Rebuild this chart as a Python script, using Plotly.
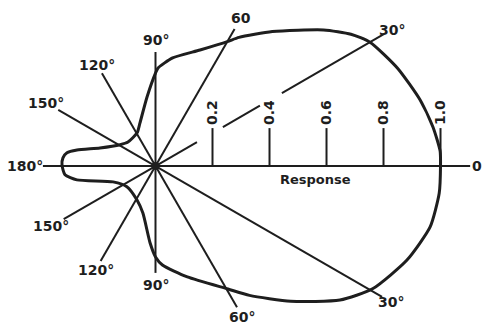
import numpy as np
import plotly.graph_objects as go

# polar response curve (degrees, response)
angle = [0, 3, 8, 14, 22, 30, 34, 39, 49, 57, 60, 69, 81, 88.5, 90, 97, 110, 119, 139, 149,
         162, 168.5, 171.5, 175, 179.5, 185.5, 190, 200.5, 216, 241.5, 255, 266, 270, 274,
         286, 300.5, 306, 315, 324, 330.5, 339.5, 347.5, 354.5, 360]
response = [1.0, 1.0, 0.983, 0.957, 0.916, 0.869, 0.827, 0.759, 0.625, 0.538, 0.504, 0.436,
            0.384, 0.344, 0.326, 0.244, 0.16, 0.133, 0.128, 0.145, 0.205, 0.281, 0.314,
            0.326, 0.328, 0.319, 0.28, 0.159, 0.124, 0.136, 0.171, 0.271, 0.319, 0.348,
            0.405, 0.501, 0.561, 0.671, 0.8, 0.875, 0.942, 0.987, 1.0, 1.0]

# radial guide lines
spoke_angle = [30, 60, 90, 120, 150, -150, -120, -90, -60, -30]
spoke_len = [0.925, 0.555, 0.40, 0.376, 0.394, 0.372, 0.385, 0.375, 0.572, 0.918]
spoke_label = ["30°", "60", "90°", "120°", "150°", "150°", "120°", "90°", "60°", "30°"]
label_r = [0.957, 0.60, 0.442, 0.41, 0.444, 0.422, 0.42, 0.418, 0.61, 0.954]
gaps_30 = [(0.168, 0.273), (0.423, 0.512)]

ticks = [0.2, 0.4, 0.6, 0.8, 1.0]
tick_text = ["0.2", "0.4", "0.6", "0.8", "1.0"]

axis_left, axis_right = -0.395, 1.104

ink = "#1e1e1e"
font = "DejaVu Sans"

fig = go.Figure()

th = np.radians(angle)
r = np.array(response)
fig.add_trace(go.Scatter(x=r * np.cos(th), y=r * np.sin(th), mode="lines",
                         line=dict(color=ink, width=3, shape="spline", smoothing=0.6),
                         hoverinfo="skip"))

# horizontal axis
fig.add_trace(go.Scatter(x=[axis_left, axis_right], y=[0, 0], mode="lines",
                         line=dict(color=ink, width=2), hoverinfo="skip"))

# spokes
xs, ys = [], []
for a, l in zip(spoke_angle, spoke_len):
    c, s = np.cos(np.radians(a)), np.sin(np.radians(a))
    if a == 30:
        cuts = [0] + [v for g in gaps_30 for v in g] + [l]
        for i in range(0, len(cuts), 2):
            xs += [cuts[i] * c, cuts[i + 1] * c, None]
            ys += [cuts[i] * s, cuts[i + 1] * s, None]
    else:
        xs += [0, l * c, None]
        ys += [0, l * s, None]
fig.add_trace(go.Scatter(x=xs, y=ys, mode="lines", line=dict(color=ink, width=2),
                         hoverinfo="skip"))

# tick marks
tx, ty = [], []
for t in ticks:
    tx += [t, t, None]
    ty += [0, 0.133, None]
fig.add_trace(go.Scatter(x=tx, y=ty, mode="lines", line=dict(color=ink, width=2),
                         hoverinfo="skip"))

# centre dot
fig.add_trace(go.Scatter(x=[0], y=[0], mode="markers",
                         marker=dict(color=ink, size=8), hoverinfo="skip"))

lab_font = dict(family=font, size=14, color=ink)
for a, lr, txt in zip(spoke_angle, label_r, spoke_label):
    fig.add_annotation(x=lr * np.cos(np.radians(a)), y=lr * np.sin(np.radians(a)),
                       text="<b>" + txt + "</b>", showarrow=False, font=lab_font)
fig.add_annotation(x=-0.458, y=0, text="<b>180°</b>", showarrow=False, font=lab_font)
fig.add_annotation(x=1.128, y=0, text="<b>0</b>", showarrow=False, font=lab_font)

for t, txt in zip(ticks, tick_text):
    fig.add_annotation(x=t, y=0.137, text="<b>" + txt + "</b>", textangle=-90,
                       showarrow=False, yanchor="bottom", font=lab_font)

fig.add_annotation(x=0.563, y=-0.049, text="<b>Response</b>", showarrow=False,
                   font=dict(family=font, size=13, color=ink))

fig.update_layout(
    width=486, height=327,
    margin=dict(l=0, r=0, t=0, b=0),
    paper_bgcolor="white", plot_bgcolor="white",
    showlegend=False,
    xaxis=dict(range=[-0.5456, 1.1596], visible=False, fixedrange=True),
    yaxis=dict(range=[-0.5649, 0.5825], visible=False, fixedrange=True),
)

# drop the default body margin so the figure sits at the page corner
fig.write_html("out.html", config={"displayModeBar": False},
               post_script="document.body.style.margin='0';")
